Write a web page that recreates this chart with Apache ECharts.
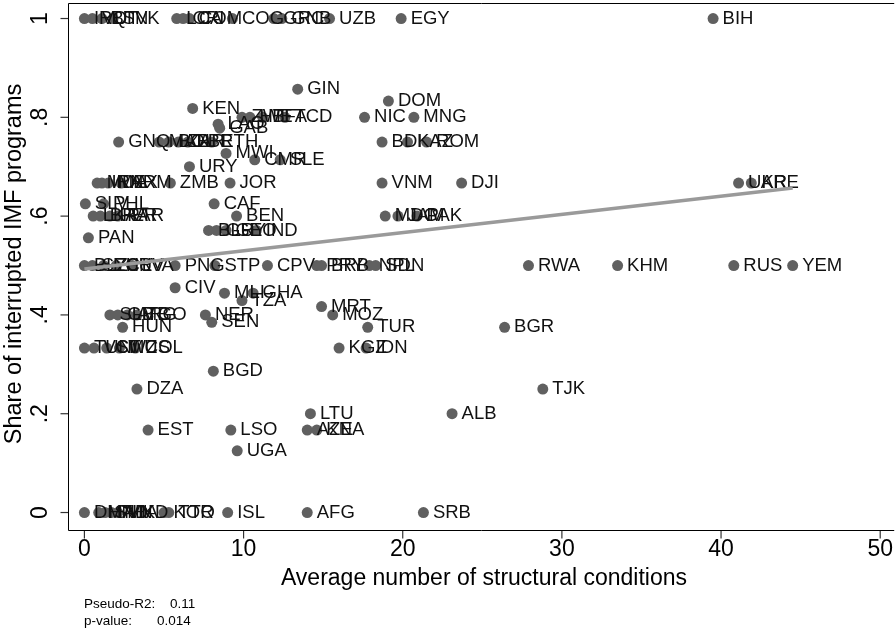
<!DOCTYPE html>
<html>
<head>
<meta charset="utf-8">
<script src="https://cdn.jsdelivr.net/npm/echarts@6/dist/echarts.min.js"></script>
<style>html,body{margin:0;padding:0;background:#fff}#c{width:896px;height:640px}</style>
</head>
<body>
<div id="c"></div>
<script>
// Country codes, average number of structural conditions, share of interrupted IMF programs
const countries = [
 'IRQ','VUT','BTN','SVK','LCA','CRI','COM','COG','GRC','GNB','UZB','EGY','BIH',
 'GIN','DOM','KEN',
 'ZWE','HTI','BFA','TCD','NIC','MNG',
 'LAO','GAB',
 'GNQ','MAR','BOL','ZAR','LBR','ETH','BDI','KAZ','ROM',
 'MWI','CMR','SLE','URY',
 'MDA','IRN','MEX','ARM','ZMB','JOR','VNM','DJI','UKR','ARE',
 'SLV','PHL','CAF',
 'LKA','BRA','PER','PAR','BEN','MDG','JAM','PAK',
 'BLR','GUY','GEO','IND','PAN',
 'BLZ','SYC','ECU','HRV','LVA','PNG','STP','CPV','PRY','BRB','NPL','SDN','RWA','KHM','RUS','YEM',
 'CIV','MLI','GHA','TZA','MRT',
 'SLB','GMB','ARG','TGO','NER','MOZ','SEN','HUN','TUR','BGR',
 'TUN','VCT','SWZ','MUS','COL','KGZ','IDN',
 'BGD','DZA','TJK','LTU','ALB',
 'EST','LSO','AZE','KNA','UGA',
 'DMA','HND','SVN','THA','MKD','KOR','TTO','ISL','AFG','SRB'
];
const structuralConditions = [
 0.0,0.5,1.1,1.8,5.8,6.2,6.6,9.3,11.9,12.4,15.4,19.9,39.5,
 13.4,19.1,6.8,
 9.9,10.4,11.2,12.6,17.6,20.7,
 8.4,8.5,
 2.15,4.7,5.3,5.9,6.5,8.0,18.7,20.3,21.5,
 8.9,10.7,12.3,6.6,
 0.8,1.1,1.5,2.3,5.4,9.15,18.7,23.7,41.1,41.9,
 0.06,1.2,8.15,
 0.55,1.0,1.6,2.1,9.56,18.9,19.7,20.9,
 7.8,8.3,8.9,10.8,0.25,
 0.0,0.5,1.2,2.0,3.0,5.7,8.2,11.5,14.6,14.9,17.9,18.3,27.9,33.5,40.8,44.5,
 5.7,8.8,10.6,9.9,14.9,
 1.6,2.1,2.7,3.3,7.6,15.6,8.0,2.4,17.8,26.4,
 0.0,0.6,1.4,2.2,3.2,16.0,17.7,
 8.1,3.3,28.8,14.2,23.1,
 4.0,9.2,14.0,14.6,9.6,
 0.0,0.9,1.3,1.7,2.1,5.0,5.3,9.0,14.0,21.3
];
const interruptedShare = [
 1,1,1,1,1,1,1,1,1,1,1,1,1,
 0.857,0.833,0.818,
 0.8,0.8,0.8,0.8,0.8,0.8,
 0.786,0.778,
 0.75,0.75,0.75,0.75,0.75,0.75,0.75,0.75,0.75,
 0.727,0.714,0.714,0.7,
 0.667,0.667,0.667,0.667,0.667,0.667,0.667,0.667,0.667,0.667,
 0.625,0.625,0.625,
 0.6,0.6,0.6,0.6,0.6,0.6,0.6,0.6,
 0.571,0.571,0.571,0.571,0.556,
 0.5,0.5,0.5,0.5,0.5,0.5,0.5,0.5,0.5,0.5,0.5,0.5,0.5,0.5,0.5,0.5,
 0.455,0.444,0.444,0.429,0.417,
 0.4,0.4,0.4,0.4,0.4,0.4,0.385,0.375,0.375,0.375,
 0.333,0.333,0.333,0.333,0.333,0.333,0.333,
 0.286,0.25,0.25,0.2,0.2,
 0.167,0.167,0.167,0.167,0.125,
 0,0,0,0,0,0,0,0,0,0
];
// Fitted line
const fitX = [0, 44.5];
const fitY = [0.493, 0.657];
// Tick labels
const xTicks = [0, 10, 20, 30, 40, 50];
const yTicks = [0, 0.2, 0.4, 0.6, 0.8, 1];
const yTickLabels = ['0', '.2', '.4', '.6', '.8', '1'];

const FONT = 'Liberation Sans, Arial, sans-serif';
const X_MIN = -1, X_MAX = 50.88, Y_MIN = -0.0364, Y_MAX = 1.0304;
const chart = echarts.init(document.getElementById('c'), null, {renderer: 'canvas'});
const pts = countries.map((c, i) => ({name: c, value: [structuralConditions[i], interruptedShare[i]]}));
const fit = fitX.map((x, i) => [x, fitY[i]]);

// Plot-region frame (top, left, bottom; open on the right like the reference) along the axis extents
const frame = [[X_MAX, Y_MAX], [X_MIN, Y_MAX], [X_MIN, Y_MIN], [X_MAX, Y_MIN]];

chart.setOption({
  animation: false,
  backgroundColor: '#fff',
  grid: {left: 68.5, top: 3.5, right: 0, height: 527, show: false},
  xAxis: {
    type: 'value', min: X_MIN, max: X_MAX,
    axisLine: {show: false}, axisTick: {show: false},
    axisLabel: {customValues: xTicks, fontSize: 23, fontFamily: FONT, color: '#000', margin: 8},
    splitLine: {show: false}
  },
  yAxis: {
    type: 'value', min: Y_MIN, max: Y_MAX,
    axisLine: {show: false}, axisTick: {show: false},
    axisLabel: {
      customValues: yTicks, rotate: 90, fontSize: 23, fontFamily: FONT, color: '#000', margin: 16,
      formatter: v => { const i = yTicks.findIndex(t => Math.abs(t - v) < 1e-9); return i >= 0 ? yTickLabels[i] : ''; }
    },
    splitLine: {show: false}
  },
  series: [
    {
      type: 'line', data: frame, symbol: 'none', clip: false, silent: true, z: 1,
      lineStyle: {color: '#000', width: 1},
      emphasis: {disabled: true}
    },
    {
      type: 'scatter', data: xTicks.map(v => [v, Y_MIN]), symbol: 'rect', symbolSize: [1.2, 8], symbolOffset: [0, 4],
      clip: false, silent: true, z: 1, itemStyle: {color: '#000'}, label: {show: false}, emphasis: {disabled: true}
    },
    {
      type: 'scatter', data: yTicks.map(v => [X_MIN, v]), symbol: 'rect', symbolSize: [8, 1.2], symbolOffset: [-4, 0],
      clip: false, silent: true, z: 1, itemStyle: {color: '#000'}, label: {show: false}, emphasis: {disabled: true}
    },
    {
      type: 'scatter', data: pts, symbol: 'circle', symbolSize: 11, z: 2,
      itemStyle: {color: '#606060', opacity: 1},
      label: {show: true, position: 'right', distance: 4, formatter: p => p.name, fontSize: 18.5, fontFamily: FONT, color: '#111'},
      emphasis: {disabled: true}
    },
    {
      type: 'line', data: fit, symbol: 'none', z: 3,
      lineStyle: {color: '#9a9a9a', width: 3.5},
      emphasis: {disabled: true}
    }
  ],
  graphic: [
    {type: 'text', x: 484, y: 579, style: {text: 'Average number of structural conditions', font: '23px ' + FONT, fill: '#000', textAlign: 'center', textVerticalAlign: 'middle'}},
    {type: 'text', x: 15, y: 264, rotation: Math.PI / 2, style: {text: 'Share of interrupted IMF programs', font: '23.5px ' + FONT, fill: '#000', textAlign: 'center', textVerticalAlign: 'middle'}},
    {type: 'text', x: 84, y: 604, style: {text: 'Pseudo-R2:', font: '13.5px ' + FONT, fill: '#000', textAlign: 'left', textVerticalAlign: 'middle'}},
    {type: 'text', x: 170, y: 604, style: {text: '0.11', font: '13.5px ' + FONT, fill: '#000', textAlign: 'left', textVerticalAlign: 'middle'}},
    {type: 'text', x: 84, y: 621, style: {text: 'p-value:', font: '13.5px ' + FONT, fill: '#000', textAlign: 'left', textVerticalAlign: 'middle'}},
    {type: 'text', x: 157, y: 621, style: {text: '0.014', font: '13.5px ' + FONT, fill: '#000', textAlign: 'left', textVerticalAlign: 'middle'}}
  ]
});
</script>
</body>
</html>
